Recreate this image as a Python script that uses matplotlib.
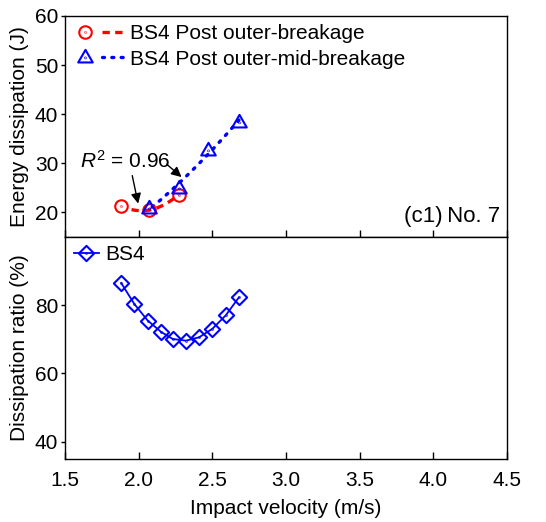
import numpy as np
import matplotlib
matplotlib.use("Agg")
import matplotlib.pyplot as plt
from matplotlib.path import Path
from matplotlib.lines import Line2D
from matplotlib.legend_handler import HandlerTuple

plt.rcParams['font.family'] = ['Liberation Sans', 'DejaVu Sans']
plt.rcParams['mathtext.fontset'] = 'custom'
plt.rcParams['mathtext.rm'] = 'Liberation Sans'
plt.rcParams['mathtext.it'] = 'Liberation Sans:italic'

# ---- data ----
v_outer = [1.88, 2.07, 2.27]
e_outer = [21.3, 20.5, 23.6]
v_mid = [2.07, 2.27, 2.47, 2.68]
e_mid = [20.9, 24.9, 32.8, 38.5]
v_ratio = [1.88, 1.97, 2.06, 2.15, 2.23, 2.32, 2.41, 2.50, 2.59, 2.68]
ratio = [86.5, 80.3, 75.5, 72.2, 70.1, 69.6, 70.6, 73.1, 77.0, 82.3]
r2_text = "$R^2$ = 0.96"
panel_text = "(c1)\u2009No. 7"
label_outer = "BS4 Post outer-breakage"
label_mid = "BS4 Post outer-mid-breakage"
label_ratio = "BS4"
xticks = [1.5, 2.0, 2.5, 3.0, 3.5, 4.0, 4.5]
yticks_top = [20, 30, 40, 50, 60]
yticks_bot = [40, 60, 80]

FS = 15

# ---- marker paths with centre dot ----
def dotted(path):
    dot = Path.circle((0, 0), 0.04)
    return Path.make_compound_path(path, dot)

circ_m = dotted(Path.unit_circle())
tri = Path([(0, 1.0), (-0.95, -0.65), (0.95, -0.65), (0, 1.0)],
           [Path.MOVETO, Path.LINETO, Path.LINETO, Path.CLOSEPOLY])
tri_m = Path.make_compound_path(tri, Path.circle((0, -0.05), 0.04))
dia = Path([(0, 1), (1, 0), (0, -1), (-1, 0), (0, 1)],
           [Path.MOVETO, Path.LINETO, Path.LINETO, Path.LINETO, Path.CLOSEPOLY])
dia_m = dotted(dia)

fig = plt.figure(figsize=(5.46, 5.22), dpi=100)
ax1 = fig.add_axes([0.1196, 0.546, 0.8084, 0.4234])
ax2 = fig.add_axes([0.1196, 0.1213, 0.8084, 0.4247], sharex=ax1)

red = '#ff0000'
blue = '#0000ff'

# fits
c_o = np.polyfit(v_outer, e_outer, 2)
xo = np.linspace(1.95, 2.27, 50)
ax1.plot(xo, np.polyval(c_o, xo), color=red, lw=2.4, ls=(0, (2.2, 1.6)), zorder=2)
c_m = np.polyfit(v_mid, e_mid, 2)
xm = np.linspace(2.09, 2.68, 50)
ax1.plot(xm, np.polyval(c_m, xm), color=blue, lw=2.4, ls=(0, (0.6, 2.2)),
         dash_capstyle='round', zorder=2)

ax1.plot(v_outer, e_outer, ls='none', marker=circ_m, ms=9, mfc='none',
         mec=red, mew=1.5, zorder=3)
ax1.plot(v_mid, e_mid, ls='none', marker=tri_m, ms=11, mfc='none',
         mec=blue, mew=1.5, zorder=3)

# legend top
h_o1 = Line2D([], [], ls='none', marker=circ_m, ms=9, mfc='none', mec=red, mew=1.5)
h_o2 = Line2D([], [], color=red, lw=2.4, ls=(0, (2.2, 1.6)))
h_m1 = Line2D([], [], ls='none', marker=tri_m, ms=11, mfc='none', mec=blue, mew=1.5)
h_m2 = Line2D([], [], color=blue, lw=2.4, ls=(0, (0.6, 2.2)), dash_capstyle='round')
ax1.legend([(h_o1, h_o2), (h_m1, h_m2)], [label_outer, label_mid],
           handler_map={tuple: HandlerTuple(ndivide=2, pad=0.3)},
           loc='upper left', frameon=False, fontsize=FS, handlelength=2.4,
           handletextpad=0.3, labelspacing=0.3, borderaxespad=0.2,
           borderpad=0.2)

ax1.annotate("", xy=(1.995, 21.8), xytext=(1.955, 27.5),
             arrowprops=dict(arrowstyle='-|>', color='black', lw=1.0,
                             mutation_scale=15, shrinkA=0, shrinkB=0))
ax1.annotate("", xy=(2.29, 27.2), xytext=(2.19, 29.8),
             arrowprops=dict(arrowstyle='-|>', color='black', lw=1.0,
                             mutation_scale=15, shrinkA=0, shrinkB=0))
ax1.text(1.60, 30.5, r2_text, fontsize=FS, va='center', ha='left')
ax1.text(0.985, 0.045, panel_text, transform=ax1.transAxes, fontsize=FS + 1,
         ha='right', va='bottom')

ax1.set_ylim(15, 60)
ax1.set_yticks(yticks_top)
ax1.set_ylabel("Energy dissipation (J)", fontsize=FS, labelpad=4)

# bottom
ax2.plot(v_ratio, ratio, color=blue, lw=1.3, marker=dia_m, ms=11, mfc='none',
         mec=blue, mew=1.5, label=label_ratio)
ax2.legend(loc='upper left', frameon=False, fontsize=FS, handlelength=1.2,
           handletextpad=0.3, borderaxespad=0.2, borderpad=0.2)
ax2.set_ylim(35, 100)
ax2.set_yticks(yticks_bot)
ax2.set_ylabel("Dissipation ratio (%)", fontsize=FS, labelpad=4)
ax2.set_xlim(1.5, 4.5)
ax2.set_xticks(xticks)
ax2.set_xticklabels([f"{t:.1f}" for t in xticks])
ax2.set_xlabel("Impact velocity (m/s)", fontsize=FS, labelpad=6)

for ax in (ax1, ax2):
    for s in ax.spines.values():
        s.set_linewidth(1.0)
    ax.tick_params(axis='x', direction='in', length=5, width=1.0, labelsize=FS, pad=9)
    ax.tick_params(axis='y', direction='out', length=3, width=1.0, labelsize=FS, pad=2)
ax1.tick_params(axis='x', labelbottom=False)

fig.savefig("out.png", dpi=100)
